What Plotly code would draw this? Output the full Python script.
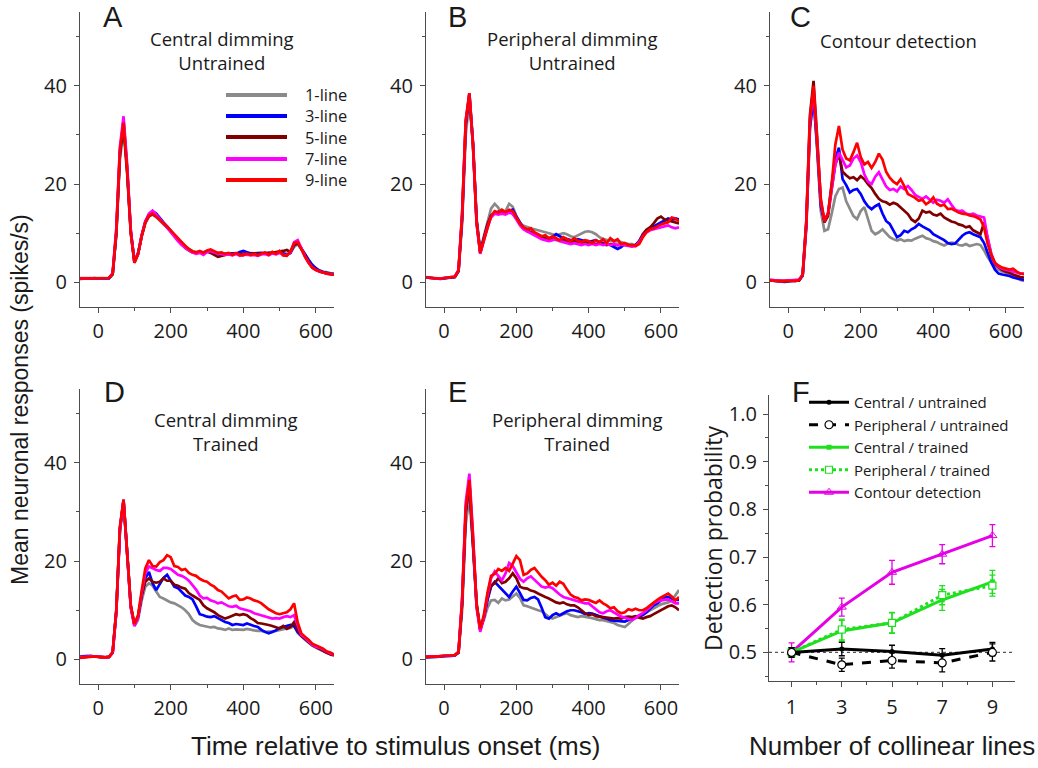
import plotly.graph_objects as go

W, H = 1038, 768

time_ms = list(range(-50, 651, 10))
series_names = ["1-line", "3-line", "5-line", "7-line", "9-line"]
series_colors = ["#8a8a8a", "#0000ff", "#800000", "#ff00ff", "#ff0000"]

# ---------------- Panel A: Central dimming, untrained ----------------
a_1 = [0.9,0.9,0.8,0.8,0.9,0.9,0.8,0.8,0.9,1.6,
       9.5,25.0,31.0,22.0,10.0,4.5,6.0,9.3,12.0,13.4,
       13.8,13.3,12.6,11.8,11.2,10.4,9.5,8.8,8.0,7.5,
       6.8,6.4,6.2,6.2,6.1,6.3,6.4,6.2,6.0,5.8,
       5.9,5.9,5.8,5.9,5.8,5.9,6.0,5.9,5.9,6.0,
       5.9,5.9,6.0,6.1,6.0,6.2,6.0,5.8,6.0,7.2,
       7.8,6.8,5.6,4.4,3.4,2.8,2.4,2.2,2.0,1.9,
       1.8]
a_3 = [0.8,0.8,0.9,0.9,0.8,0.8,0.9,0.9,0.8,1.7,
       10.0,26.5,33.0,23.0,10.5,4.2,5.9,9.6,12.4,13.8,
       14.5,14.0,13.0,12.2,11.4,10.5,9.4,8.6,7.9,7.2,
       6.6,6.2,6.0,6.2,6.1,6.2,6.4,6.0,5.9,5.8,
       5.7,5.8,5.9,5.8,6.2,6.4,6.1,5.9,5.8,5.9,
       6.0,5.8,6.0,5.9,6.1,6.2,5.9,5.6,6.0,7.6,
       8.0,7.0,5.8,4.6,3.6,2.9,2.4,2.1,1.9,1.8,
       1.7]
a_5 = [0.7,0.8,0.8,0.8,0.9,0.8,0.8,0.9,0.9,1.7,
       10.0,26.0,32.0,22.5,10.2,4.0,5.7,9.4,12.2,13.5,
       13.9,13.4,12.8,12.0,11.2,10.4,9.4,8.6,7.8,7.0,
       6.5,6.1,6.0,6.2,6.0,6.3,6.0,5.6,5.2,5.4,
       5.6,5.8,5.7,5.9,5.7,5.8,5.6,5.8,5.9,5.7,
       5.8,6.0,5.9,6.0,6.1,6.2,6.4,6.6,6.2,7.6,
       8.0,6.9,5.4,4.2,3.2,2.6,2.2,2.0,1.8,1.7,
       1.6]
a_7 = [0.8,0.8,0.8,0.8,0.9,0.9,0.8,0.8,0.9,1.9,
       11.0,27.5,33.8,24.0,10.5,4.2,5.8,9.6,12.4,14.0,
       14.6,13.8,12.8,12.0,11.2,10.2,9.2,8.4,7.6,7.0,
       6.5,6.1,5.8,6.0,5.6,6.2,6.4,6.1,5.9,5.8,
       5.6,5.7,5.5,5.8,5.4,5.6,5.7,5.5,5.6,5.4,
       5.7,5.8,5.5,5.9,5.7,6.0,5.6,5.5,6.1,8.2,
       8.6,7.0,5.3,4.0,3.0,2.5,2.2,2.0,1.8,1.7,
       1.6]
a_9 = [0.8,0.8,0.8,0.9,0.9,0.8,0.8,0.8,0.9,1.8,
       10.5,27.0,32.5,23.0,10.0,4.0,5.8,9.5,12.2,13.6,
       14.0,13.4,12.6,12.0,11.4,10.6,9.6,8.9,8.0,7.4,
       6.8,6.3,6.1,6.4,6.0,6.5,6.7,6.3,6.0,6.1,
       5.8,6.0,5.6,6.0,5.6,5.5,5.9,5.6,5.8,5.5,
       5.9,6.1,5.6,6.2,5.8,6.4,5.5,5.4,6.3,8.0,
       8.2,6.8,5.2,4.0,3.0,2.5,2.2,2.0,1.8,1.7,
       1.6]

# ---------------- Panel B: Peripheral dimming, untrained ----------------
b_1 = [1.1,1.0,0.9,0.9,0.8,0.9,1.0,1.0,1.1,2.2,
       12.0,30.0,37.0,28.0,13.0,6.5,9.5,12.5,15.0,16.0,
       15.2,14.0,14.5,16.0,15.4,13.5,12.0,11.5,11.2,11.0,
       10.8,10.6,10.5,10.2,10.0,9.8,9.6,9.8,10.0,9.8,
       9.4,9.2,9.6,10.0,10.3,10.4,10.2,9.8,9.2,8.8,
       8.6,8.5,8.3,8.4,8.2,8.0,7.8,7.8,7.6,8.4,
       9.8,10.8,11.2,11.0,11.6,12.0,12.4,12.6,12.5,12.8,
       12.6]
b_3 = [1.0,0.9,0.8,0.7,0.7,0.8,0.9,0.9,1.1,2.3,
       13.0,32.0,38.5,28.5,12.5,6.0,8.6,11.6,13.6,14.0,
       14.4,14.2,14.0,14.6,14.8,13.4,12.2,11.0,10.4,10.2,
       9.8,9.6,9.2,9.0,8.6,9.2,9.8,9.4,9.0,8.8,
       8.6,8.4,8.8,8.6,8.4,8.2,8.4,8.6,8.2,8.0,
       7.8,7.6,7.2,6.8,7.2,7.8,7.6,7.5,7.6,8.4,
       9.6,10.6,11.0,11.4,11.8,12.2,12.6,13.0,12.8,13.0,
       12.8]
b_5 = [1.0,0.9,0.9,0.8,0.8,0.9,0.9,1.0,1.1,2.4,
       13.5,32.5,38.0,28.0,12.5,6.2,8.8,11.8,13.5,14.2,
       14.0,14.4,14.2,14.4,14.0,13.0,11.8,11.0,10.6,10.2,
       9.8,9.4,9.2,9.0,8.8,8.8,8.6,8.5,8.6,8.4,
       8.2,8.4,8.3,8.2,8.0,8.2,8.0,7.8,8.0,7.8,
       7.6,7.8,7.7,7.6,7.8,7.6,7.5,7.4,7.6,8.4,
       9.8,10.6,11.2,12.0,13.0,13.4,12.8,12.6,12.4,12.2,
       12.0]
b_7 = [1.0,0.9,0.9,0.8,0.8,0.9,0.9,1.0,1.2,2.5,
       14.0,33.0,38.5,28.0,12.0,5.8,8.4,11.2,13.2,14.0,
       13.8,14.0,13.8,14.2,14.0,12.8,11.6,10.8,10.4,10.0,
       9.6,9.2,8.8,8.6,8.4,8.6,8.8,8.4,8.2,8.0,
       7.8,8.0,7.8,7.6,7.8,7.6,7.8,7.6,7.8,7.6,
       7.8,7.6,7.8,7.6,7.7,7.5,7.4,7.3,7.4,8.2,
       9.4,10.2,10.6,10.8,11.0,11.2,11.4,11.6,11.2,11.0,
       11.2]
b_9 = [1.0,0.9,0.9,0.8,0.8,0.9,0.9,1.0,1.2,2.5,
       14.0,33.0,38.5,28.0,12.0,6.0,8.5,11.5,13.5,14.5,
       14.2,14.8,14.3,14.8,14.5,13.2,12.0,11.2,10.8,11.0,
       10.2,9.8,9.4,9.6,9.0,9.4,9.0,8.6,9.2,8.8,
       8.4,9.0,8.5,8.2,8.6,8.4,8.0,8.6,8.2,8.8,
       8.0,9.0,8.4,8.8,7.8,8.0,7.6,7.6,7.4,7.8,
       9.2,10.2,10.8,11.0,11.4,11.8,12.0,12.2,13.2,13.0,
       12.4]

# ---------------- Panel C: Contour detection ----------------
c_1 = [0.5,0.4,0.3,0.3,0.3,0.4,0.4,0.3,0.4,1.3,
       11.0,31.0,38.0,27.0,14.5,10.5,10.8,14.0,17.5,19.0,
       19.3,16.5,15.0,13.5,12.9,14.5,15.3,13.0,10.5,9.8,
       10.2,10.8,10.0,9.2,8.8,8.5,8.8,8.4,8.6,8.5,
       8.9,9.2,9.5,9.0,8.8,8.4,8.2,7.8,7.5,7.9,
       8.1,8.0,7.6,7.5,7.8,7.4,7.6,7.8,7.6,6.5,
       5.1,4.0,3.2,2.6,2.2,2.0,1.6,1.2,0.8,0.5,
       0.3]
c_3 = [0.4,0.3,0.2,0.2,0.1,0.2,0.3,0.3,0.4,1.4,
       11.5,31.5,37.5,27.5,15.5,12.5,14.0,20.0,25.0,27.4,
       21.0,19.8,18.3,18.8,19.0,18.0,16.5,15.5,14.9,15.5,
       15.9,14.0,12.5,11.9,10.5,9.2,9.6,10.5,10.2,10.8,
       11.2,11.9,11.4,11.0,10.6,9.8,9.4,9.0,8.6,8.0,
       7.8,7.9,8.8,9.5,10.0,10.2,9.8,9.5,9.2,8.0,
       5.8,4.0,2.6,1.8,1.6,1.5,1.3,1.0,0.8,0.6,
       0.5]
c_5 = [0.4,0.3,0.3,0.3,0.2,0.3,0.4,0.3,0.4,1.6,
       12.5,34.0,41.0,29.5,16.5,12.2,13.5,19.0,24.0,26.0,
       22.5,21.8,21.2,21.4,20.8,21.6,21.0,20.0,19.2,18.0,
       17.0,16.5,16.3,15.8,16.2,15.9,15.2,14.5,13.9,12.8,
       12.3,13.0,14.6,14.2,14.4,13.8,13.6,14.0,13.2,12.8,
       12.4,12.2,11.8,11.6,11.2,11.4,10.6,10.2,9.8,12.2,
       8.5,5.5,3.7,3.0,2.5,2.2,2.0,1.6,1.3,1.1,
       1.0]
c_7 = [0.5,0.4,0.3,0.3,0.3,0.4,0.4,0.5,0.6,1.5,
       12.0,32.5,39.0,28.5,16.5,12.5,14.0,19.0,24.0,26.4,
       25.0,23.4,23.8,25.2,25.8,24.5,22.0,20.5,20.0,21.5,
       22.4,21.0,19.5,18.8,19.0,18.5,19.5,19.0,19.6,18.8,
       17.8,17.4,17.0,17.5,16.8,16.2,16.8,16.6,16.2,16.9,
       15.8,14.8,14.5,14.6,14.0,13.8,14.0,13.6,13.4,13.2,
       9.0,5.8,3.9,3.2,2.8,2.6,2.4,2.2,2.0,1.8,
       1.8]
c_9 = [0.4,0.3,0.3,0.2,0.3,0.3,0.4,0.3,0.5,1.5,
       12.0,33.0,40.0,29.0,17.0,12.5,14.0,20.0,28.0,31.8,
       27.0,25.2,24.8,26.5,28.4,25.5,24.0,24.5,23.3,24.5,
       26.2,25.0,22.5,21.3,20.5,20.0,21.0,19.6,18.0,17.6,
       17.2,16.6,16.8,15.9,16.4,17.3,16.0,15.6,15.8,14.9,
       15.0,14.6,14.2,14.0,13.9,13.6,13.5,13.2,12.8,11.2,
       7.8,5.6,4.0,3.4,3.0,2.8,2.6,2.8,2.2,1.8,
       1.7]

# ---------------- Panel D: Central dimming, trained ----------------
d_1 = [0.6,0.7,0.7,0.6,0.6,0.5,0.4,0.4,0.5,1.3,
       9.5,26.0,32.0,21.5,10.5,6.8,8.0,12.0,14.8,15.5,
       15.0,13.8,12.7,12.4,12.0,11.6,11.4,11.0,10.6,10.0,
       9.2,8.0,7.4,7.0,6.8,6.6,6.5,6.6,6.3,6.2,
       6.0,6.3,6.0,6.1,6.0,6.0,6.2,6.0,5.9,5.8,
       5.8,5.6,5.6,5.7,5.8,6.0,6.2,6.3,6.4,6.8,
       5.4,4.6,4.0,3.4,2.8,2.4,2.0,1.6,1.3,1.1,
       0.9]
d_3 = [0.5,0.6,0.7,0.7,0.6,0.5,0.4,0.4,0.5,1.4,
       9.8,26.5,32.5,22.0,10.8,7.0,8.6,13.0,16.5,17.8,
       15.5,14.1,15.5,16.6,17.2,16.0,14.8,14.5,13.8,13.0,
       12.7,12.2,10.8,9.2,9.0,8.7,8.6,8.8,8.4,8.0,
       7.6,7.4,7.0,7.2,7.1,7.0,7.3,7.0,6.8,6.6,
       6.0,5.6,5.3,5.6,5.9,6.4,6.6,6.8,7.0,6.8,
       5.6,4.8,4.2,3.6,3.0,2.6,2.2,1.8,1.4,1.2,
       1.0]
d_5 = [0.4,0.5,0.6,0.6,0.6,0.5,0.4,0.4,0.5,1.4,
       9.8,26.5,32.3,22.0,10.8,7.0,8.8,13.0,15.8,16.5,
       15.8,15.6,15.8,16.5,16.0,16.0,15.2,15.0,14.6,14.4,
       13.5,13.0,12.5,12.1,11.0,10.4,10.0,9.6,9.0,8.6,
       8.3,8.6,8.9,9.2,9.0,9.2,9.0,8.4,8.0,7.4,
       7.3,7.2,7.0,6.8,6.5,6.3,6.8,6.2,6.6,7.6,
       6.0,4.8,4.2,3.6,2.9,2.5,2.2,1.8,1.4,1.0,
       0.8]
d_7 = [0.4,0.5,0.6,0.6,0.6,0.5,0.4,0.4,0.5,1.4,
       9.5,26.5,32.3,21.5,10.5,6.8,8.5,13.5,17.5,18.9,
       18.5,18.2,18.0,18.6,18.6,18.4,17.8,17.2,17.0,16.6,
       16.0,15.2,14.2,13.0,12.4,12.5,12.0,11.8,11.4,11.6,
       11.2,10.8,10.7,10.9,10.4,10.2,10.0,9.8,9.4,9.2,
       9.0,8.8,8.6,8.3,8.4,8.3,8.6,8.8,8.6,9.0,
       7.0,5.0,4.4,3.6,3.0,2.6,2.4,2.0,1.6,1.2,
       1.0]
d_9 = [0.3,0.4,0.5,0.6,0.6,0.5,0.4,0.4,0.5,1.5,
       10.0,27.0,32.5,22.0,11.0,7.2,9.0,14.0,18.5,20.2,
       19.0,18.9,19.8,20.2,21.2,20.8,19.0,18.8,18.2,18.4,
       17.6,17.2,17.0,16.4,16.0,15.8,15.2,14.8,14.1,13.8,
       13.0,12.4,12.8,13.0,12.1,12.2,12.6,12.4,12.0,11.8,
       11.4,10.8,10.2,9.8,9.4,9.2,9.4,9.6,10.2,11.4,
       7.5,5.3,4.6,4.0,3.2,2.9,2.6,2.2,1.6,1.4,
       0.9]

# ---------------- Panel E: Peripheral dimming, trained ----------------
e_1 = [0.6,0.6,0.6,0.7,0.7,0.8,0.8,0.8,0.9,1.3,
       10.0,27.5,33.0,23.0,11.0,6.5,8.0,10.5,12.0,12.1,
       11.5,12.4,12.0,12.2,12.8,13.4,12.5,11.0,10.8,10.5,
       10.2,10.0,9.8,9.2,8.6,8.3,8.6,9.0,9.2,9.4,
       9.0,8.8,8.6,8.8,8.7,8.6,8.4,8.2,8.0,8.0,
       7.8,7.6,7.4,7.0,6.8,6.6,7.2,8.0,8.6,9.0,
       9.2,9.6,10.0,10.4,10.8,11.2,11.4,11.6,12.0,13.0,
       14.1]
e_3 = [0.4,0.4,0.5,0.5,0.6,0.6,0.7,0.7,0.8,1.4,
       11.5,30.0,36.0,24.5,11.0,6.0,8.5,12.0,14.8,15.8,
       15.0,14.1,13.4,12.7,13.8,14.8,13.5,12.1,12.0,12.5,
       12.7,12.2,10.5,8.6,8.3,9.0,9.4,9.0,9.4,9.8,
       10.0,10.0,9.8,9.6,9.2,9.4,9.3,9.0,8.8,8.5,
       8.3,8.0,7.9,7.8,7.7,7.7,8.0,8.3,8.6,8.7,
       9.0,9.6,10.4,11.0,11.4,12.0,12.6,12.7,12.4,12.1,
       12.1]
e_5 = [0.5,0.5,0.5,0.6,0.6,0.7,0.7,0.8,0.9,1.4,
       11.5,30.0,36.0,24.5,11.5,6.0,8.5,12.5,15.0,15.5,
       16.5,15.5,15.8,16.5,17.5,16.5,14.8,14.5,14.4,14.0,
       13.8,13.4,13.0,12.7,12.4,12.0,11.6,11.4,11.6,11.2,
       11.0,11.0,10.6,10.0,9.4,9.0,9.2,8.8,8.7,8.7,
       8.6,8.4,8.3,8.4,8.3,8.6,8.7,8.6,8.8,8.5,
       8.3,8.6,8.8,9.2,9.6,10.0,10.4,10.8,11.0,10.6,
       10.0]
e_7 = [0.5,0.5,0.6,0.6,0.7,0.7,0.8,0.8,0.9,1.6,
       12.5,32.0,37.8,25.5,10.5,5.6,8.5,13.0,16.5,17.9,
       17.0,16.1,17.5,19.6,19.0,17.8,16.4,15.8,16.5,16.9,
       16.2,15.5,14.8,14.6,14.8,14.5,13.8,13.2,12.7,12.5,
       12.3,12.1,11.9,11.7,11.4,11.4,10.8,10.2,9.6,9.4,
       9.8,10.0,9.6,9.2,8.7,8.5,8.2,8.0,8.4,9.0,
       9.4,10.0,10.6,11.4,11.8,12.0,12.1,12.2,11.8,11.4,
       11.4]
e_9 = [0.5,0.5,0.6,0.6,0.7,0.7,0.8,0.8,0.9,1.5,
       12.0,31.0,36.5,25.0,11.0,6.2,9.0,13.5,17.0,17.4,
       18.4,18.0,18.6,18.0,19.5,21.0,20.2,17.2,17.5,18.2,
       18.6,17.6,16.8,16.1,15.2,15.6,15.0,15.8,15.4,14.2,
       13.2,12.7,12.5,12.0,12.2,12.1,11.8,11.5,12.0,11.4,
       11.0,10.4,10.6,9.8,9.4,9.6,10.2,10.0,10.3,10.0,
       10.0,10.4,11.0,11.6,12.1,12.6,13.0,13.4,12.8,12.0,
       12.7]

# ---------------- Panel F: detection probability ----------------
n_lines = [1, 3, 5, 7, 9]
f_names = ["Central / untrained", "Peripheral / untrained", "Central / trained",
           "Peripheral / trained", "Contour detection"]
central_untrained = [0.500, 0.507, 0.502, 0.494, 0.507]
central_untrained_err = [0.010, 0.014, 0.013, 0.014, 0.014]
peripheral_untrained = [0.500, 0.474, 0.483, 0.478, 0.500]
peripheral_untrained_err = [0.010, 0.014, 0.016, 0.019, 0.018]
central_trained = [0.500, 0.545, 0.562, 0.610, 0.648]
central_trained_err = [0.010, 0.022, 0.021, 0.022, 0.024]
peripheral_trained = [0.500, 0.548, 0.562, 0.620, 0.640]
peripheral_trained_err = [0.010, 0.022, 0.022, 0.020, 0.022]
contour_detection = [0.500, 0.595, 0.668, 0.706, 0.745]
contour_detection_err = [0.020, 0.019, 0.025, 0.020, 0.023]
chance_level = 0.5

panels = [
    ("A", [a_1, a_3, a_5, a_7, a_9], ["Central dimming", "Untrained"]),
    ("B", [b_1, b_3, b_5, b_7, b_9], ["Peripheral dimming", "Untrained"]),
    ("C", [c_1, c_3, c_5, c_7, c_9], ["Contour detection"]),
    ("D", [d_1, d_3, d_5, d_7, d_9], ["Central dimming", "Trained"]),
    ("E", [e_1, e_3, e_5, e_7, e_9], ["Peripheral dimming", "Trained"]),
]

# ---------------- layout geometry (pixels) ----------------
def px(x):
    return x / W

def py(y):
    return 1 - y / H

boxes = {
    "A": (80, 334, 12, 307),
    "B": (426, 679, 12, 307),
    "C": (770, 1024, 12, 307),
    "D": (80, 334, 389, 684),
    "E": (426, 679, 389, 684),
    "F": (769, 1015, 395, 681),
}
subtitle_x = {"A": 222, "B": 572, "C": 898, "D": 226, "E": 577}
subtitle_y = {"A": 50.5, "B": 50.5, "C": 40, "D": 431, "E": 431}
letter_pos = {"A": (113, 17), "B": (457, 17), "C": (800, 17),
              "D": (114, 392), "E": (457, 392), "F": (801, 392)}

TICK_FONT = dict(family="Open Sans", size=20, color="#1a1a1a")
AX_COLOR = "#4d4d4d"

fig = go.Figure()
layout = dict(
    width=W, height=H, margin=dict(l=0, r=0, t=0, b=0),
    paper_bgcolor="white", plot_bgcolor="white",
    showlegend=True,
)

for idx, (key, series, sub) in enumerate(panels, start=1):
    xa = "x" if idx == 1 else f"x{idx}"
    ya = "y" if idx == 1 else f"y{idx}"
    for name, color, vals in zip(series_names, series_colors, series):
        fig.add_trace(go.Scatter(
            x=time_ms, y=vals, mode="lines", name=name,
            line=dict(color=color, width=2.7), xaxis=xa, yaxis=ya,
            showlegend=False))
    x0, x1, y0, y1 = boxes[key]
    layout["xaxis" if idx == 1 else f"xaxis{idx}"] = dict(
        domain=[px(x0), px(x1)], anchor=ya, range=[-50, 650],
        tickvals=[0, 200, 400, 600], showline=True, linecolor=AX_COLOR,
        linewidth=1.3, ticks="outside", ticklen=5, tickcolor=AX_COLOR,
        tickwidth=1.2, minor=dict(tickvals=[100, 300, 500], ticks="outside",
                                  ticklen=3, tickcolor=AX_COLOR),
        showgrid=False, zeroline=False, tickfont=TICK_FONT,
        ticklabelstandoff=1)
    layout["yaxis" if idx == 1 else f"yaxis{idx}"] = dict(
        domain=[py(y1), py(y0)], anchor=xa, range=[-5, 55],
        tickvals=[0, 20, 40], showline=True, linecolor=AX_COLOR,
        linewidth=1.3, ticks="outside", ticklen=5, tickcolor=AX_COLOR,
        tickwidth=1.2, minor=dict(tickvals=[10, 30, 50], ticks="outside",
                                  ticklen=3, tickcolor=AX_COLOR),
        showgrid=False, zeroline=False, tickfont=TICK_FONT,
        ticklabelstandoff=3)

# Panel F traces
f_specs = [
    (f_names[4], contour_detection, contour_detection_err, "#e600e6",
     dict(symbol="triangle-up-open", size=8, color="#e600e6"), "solid"),
    (f_names[2], central_trained, central_trained_err, "#1fe01f",
     dict(symbol="square", size=5, color="#1fe01f"), "solid"),
    (f_names[3], peripheral_trained, peripheral_trained_err, "#1fe01f",
     dict(symbol="square", size=7, color="white",
          line=dict(color="#1fe01f", width=1.2)), "dot"),
    (f_names[0], central_untrained, central_untrained_err, "#000000",
     dict(symbol="circle", size=5, color="#000000"), "solid"),
    (f_names[1], peripheral_untrained, peripheral_untrained_err, "#000000",
     dict(symbol="circle", size=8, color="white",
          line=dict(color="#000000", width=1.2)), "dash"),
]
legend_rank = {f_names[0]: 1, f_names[1]: 2, f_names[2]: 3, f_names[3]: 4, f_names[4]: 5}
for name, vals, err, color, marker, dash in f_specs:
    fig.add_trace(go.Scatter(
        x=n_lines, y=vals, mode="lines+markers", name=name,
        line=dict(color=color, width=3, dash=dash), marker=marker,
        error_y=dict(type="data", array=err, color=color, thickness=1.3, width=3),
        xaxis="x6", yaxis="y6", legend="legend", legendrank=legend_rank[name]))

x0, x1, y0, y1 = boxes["F"]
layout["xaxis6"] = dict(
    domain=[px(x0), px(x1)], anchor="y6", range=[0.1, 9.9],
    tickvals=n_lines, showline=True, linecolor=AX_COLOR, linewidth=1.3,
    ticks="outside", ticklen=5, tickcolor=AX_COLOR, tickwidth=1.2,
    minor=dict(tickvals=[2, 4, 6, 8], ticks="outside", ticklen=3, tickcolor=AX_COLOR),
    showgrid=False, zeroline=False, tickfont=TICK_FONT, ticklabelstandoff=3)
layout["yaxis6"] = dict(
    domain=[py(y1), py(y0)], anchor="x6", range=[0.44, 1.04],
    tickvals=[0.5, 0.6, 0.7, 0.8, 0.9, 1.0], tickformat=".1f",
    showline=True, linecolor=AX_COLOR, linewidth=1.3, ticks="outside",
    ticklen=5, tickcolor=AX_COLOR, tickwidth=1.2,
    minor=dict(tickvals=[0.45, 0.55, 0.65, 0.75, 0.85, 0.95], ticks="outside",
               ticklen=3, tickcolor=AX_COLOR),
    showgrid=False, zeroline=False, tickfont=TICK_FONT, ticklabelstandoff=2)

layout["legend"] = dict(
    x=px(804), y=py(386), xanchor="left", yanchor="top",
    bgcolor="rgba(0,0,0,0)", font=dict(family="Open Sans", size=15, color="#1a1a1a"),
    tracegroupgap=0, itemwidth=40, traceorder="normal")

shapes = [dict(type="line", xref="x6 domain", yref="y6", x0=0, x1=1,
               y0=chance_level, y1=chance_level, layer="below",
               line=dict(color="#555555", width=1.3, dash="dot"))]

annotations = []
# Panel A legend (manual, long line samples; labels as one multi-line text)
leg_rows = [95, 116, 137, 159, 180]
for name, color, yr in zip(series_names, series_colors, leg_rows):
    shapes.append(dict(type="line", xref="paper", yref="paper",
                       x0=px(226), x1=px(287), y0=py(yr), y1=py(yr),
                       line=dict(color=color, width=4)))
annotations.append(dict(x=px(303), y=py(sum(leg_rows) / len(leg_rows)),
                        xref="paper", yref="paper",
                        text="<br>".join(series_names), showarrow=False,
                        xanchor="left", yanchor="middle", align="left",
                        font=dict(family="Open Sans", size=16.4, color="#1a1a1a")))

for key, _, sub in panels:
    annotations.append(dict(x=px(subtitle_x[key]), y=py(subtitle_y[key]), xref="paper",
                            yref="paper", text="<br>".join(sub), showarrow=False,
                            xanchor="center", yanchor="middle", align="center",
                            font=dict(family="Open Sans", size=18.5, color="#1a1a1a")))

for key, (lx, ly) in letter_pos.items():
    annotations.append(dict(x=px(lx), y=py(ly), xref="paper", yref="paper",
                            text=key, showarrow=False, xanchor="center",
                            yanchor="middle",
                            font=dict(family="Liberation Sans", size=29, color="#1a1a1a")))

annotations += [
    dict(x=px(20), y=py(400), xref="paper", yref="paper",
         text="Mean neuronal responses (spikes/s)", textangle=-90, showarrow=False,
         xanchor="center", yanchor="middle",
         font=dict(family="Liberation Sans", size=23, color="#1a1a1a")),
    dict(x=px(395), y=py(746), xref="paper", yref="paper",
         text="Time relative to stimulus onset (ms)", showarrow=False,
         xanchor="center", yanchor="middle",
         font=dict(family="Liberation Sans", size=26, color="#1a1a1a")),
    dict(x=px(892), y=py(746), xref="paper", yref="paper",
         text="Number of collinear lines", showarrow=False,
         xanchor="center", yanchor="middle",
         font=dict(family="Liberation Sans", size=26, color="#1a1a1a")),
    dict(x=px(713), y=py(538), xref="paper", yref="paper",
         text="Detection probability", textangle=-90, showarrow=False,
         xanchor="center", yanchor="middle",
         font=dict(family="Open Sans", size=23, color="#1a1a1a")),
]

layout["shapes"] = shapes
layout["annotations"] = annotations
fig.update_layout(**layout)
fig.write_html("out.html",
               config={"displayModeBar": False},
               post_script="document.body.style.margin='0px';"
                           "document.body.style.overflow='hidden';")
